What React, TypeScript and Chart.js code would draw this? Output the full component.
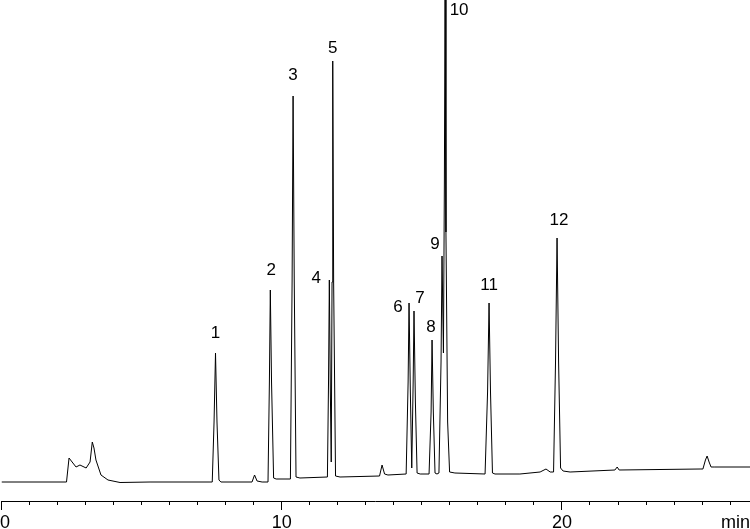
import React, { useEffect, useRef } from "react";
import { Chart, registerables } from "chart.js";

Chart.register(...registerables);

// Chromatogram trace: retention time (min) and detector signal (arbitrary units)
const times = [
  0, 2.32, 2.41, 2.52, 2.66, 2.8, 3.02, 3.16, 3.24, 3.3, 3.37, 3.55, 3.8, 4.23, 5.3, 7.44,
  7.52, 7.585, 7.637, 7.69, 7.76, 7.83,
  8.94, 9.03, 9.12, 9.3,
  9.51, 9.56, 9.593, 9.636, 9.71, 9.8,
  10.31, 10.37, 10.405, 10.447, 10.51, 10.65,
  11.63, 11.67, 11.699, 11.735, 11.767, 11.795, 11.82, 11.852, 11.92, 12.08,
  13.49, 13.58, 13.67, 13.79,
  14.44, 14.51, 14.543, 14.59, 14.64, 14.69, 14.72, 14.77, 14.83, 14.94,
  15.257, 15.33, 15.364, 15.41, 15.47, 15.54,
  15.61, 15.685, 15.72, 15.77, 15.804, 15.83, 15.86, 15.92, 15.99, 16.18,
  17.256, 17.345, 17.398, 17.45, 17.52, 17.61, 18.5, 19.22, 19.43, 19.58,
  19.7, 19.77, 19.825, 19.88, 19.95, 20.04, 20.29,
  21.89, 21.97, 22.04, 24.93,
  25.03, 25.12, 25.18, 25.25, 25.32, 25.43, 26.71,
];
const signal = [
  0, 0, 24, 20, 15, 17, 14, 20, 40, 34, 22, 7, 2, -0.5, 0, 0,
  0, 60, 129, 60, 2, 0,
  0, 7, 1, 0,
  0, 100, 192, 100, 4, 3,
  3, 200, 386, 200, 5, 4,
  5, 100, 202, 90, 20, 200, 421, 200, 6, 5,
  6, 17, 8, 7,
  8, 100, 179, 90, 14, 100, 171, 80, 9, 8,
  8, 70, 142, 70, 9, 8,
  9, 120, 226, 129, 300, 500, 250, 60, 10, 9,
  8, 90, 179, 90, 9, 8, 8, 10, 13, 10,
  10, 120, 244, 120, 14, 11, 10,
  12, 15, 12, 13,
  13, 22, 26, 20, 15, 15, 15,
];

// Peak annotations
const peakNumbers = ["1", "2", "3", "4", "5", "6", "7", "8", "9", "10", "11", "12"];
const peakTimes = [7.637, 9.593, 10.405, 11.699, 11.82, 14.543, 14.72, 15.364, 15.72, 15.83, 17.398, 19.825];
const peakHeights = [129, 192, 386, 202, 421, 179, 171, 142, 226, 482, 179, 244];

// Axis
const axisLabels = [0, 10, 20];
const axisUnit = "min";
const xMin = 0;
const xMax = 26.71;
const yMin = -19;
const yMax = 482;

// label placement relative to apex (styling only)
const labelOffsets: [number, number][] = [
  [0, -20], [1, -20], [0, -21], [-13, -2], [0, -13], [-11, 4],
  [6, -13], [-1, -13], [-7, -12], [14, 10], [0, -18], [2, -18],
];

const FONT = '"Liberation Sans", Arial, Helvetica, sans-serif';

const annotationPlugin = {
  id: "chromAnnotations",
  afterDraw(chart: any) {
    const { ctx, chartArea } = chart;
    const x = chart.scales.x;
    const y = chart.scales.y;
    const axisY = chartArea.bottom;
    ctx.save();
    // axis line
    ctx.strokeStyle = "#000";
    ctx.lineWidth = 1;
    ctx.beginPath();
    ctx.moveTo(Math.floor(x.getPixelForValue(xMin)), axisY + 0.5);
    ctx.lineTo(chart.width, axisY + 0.5);
    ctx.stroke();
    // ticks
    ctx.beginPath();
    for (let t = Math.ceil(xMin); t <= xMax; t++) {
      const px = Math.floor(x.getPixelForValue(t)) + 0.5;
      const len = t % 10 === 0 ? 9 : 4;
      ctx.moveTo(px, axisY);
      ctx.lineTo(px, axisY + len);
    }
    ctx.stroke();
    // tick labels
    ctx.fillStyle = "#000";
    ctx.font = `18px ${FONT}`;
    ctx.textBaseline = "alphabetic";
    ctx.textAlign = "center";
    for (const v of axisLabels) {
      const s = String(v);
      const w = ctx.measureText(s).width;
      let px = x.getPixelForValue(v);
      px = Math.max(px, w / 2);
      ctx.fillText(s, px, 528);
    }
    ctx.textAlign = "right";
    ctx.fillText(axisUnit, chart.width, 528);
    // peak labels
    ctx.font = `17px ${FONT}`;
    ctx.textAlign = "center";
    ctx.textBaseline = "middle";
    peakNumbers.forEach((n, i) => {
      const px = x.getPixelForValue(peakTimes[i]) + labelOffsets[i][0];
      const py = y.getPixelForValue(peakHeights[i]) + labelOffsets[i][1];
      ctx.fillText(n, px, py);
    });
    ctx.restore();
  },
};

export default function App() {
  const canvasRef = useRef<HTMLCanvasElement | null>(null);
  useEffect(() => {
    if (!canvasRef.current) return;
    const data = times.map((t, i) => ({ x: t, y: signal[i] }));
    const chart = new Chart(canvasRef.current, {
      type: "line",
      data: {
        datasets: [
          {
            data,
            borderColor: "#000",
            borderWidth: 1,
            pointRadius: 0,
            tension: 0,
            fill: false,
          },
        ],
      },
      options: {
        animation: false,
        responsive: true,
        maintainAspectRatio: false,
        devicePixelRatio: 1,
        layout: { padding: { left: 1.5, right: 0, top: 0, bottom: 28 } },
        plugins: { legend: { display: false }, tooltip: { enabled: false } },
        scales: {
          x: { type: "linear", min: xMin, max: xMax, display: false },
          y: { type: "linear", min: yMin, max: yMax, display: false },
        },
      },
      plugins: [annotationPlugin],
    });
    return () => chart.destroy();
  }, []);
  return (
    <div style={{ position: "fixed", left: 0, top: 0, width: 750, height: 529, background: "#fff" }}>
      <canvas ref={canvasRef} />
    </div>
  );
}
